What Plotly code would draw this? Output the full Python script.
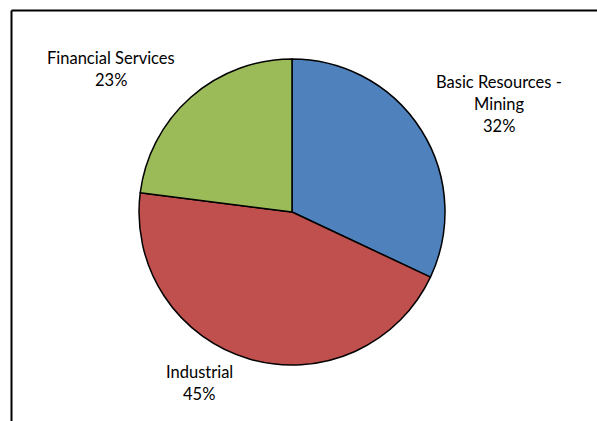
import plotly.graph_objects as go

# Sector breakdown
sectors = ["Basic Resources -<br>Mining", "Industrial", "Financial Services"]
shares = [32, 45, 23]
colors = ["#4F81BD", "#C0504D", "#9BBB59"]

W, H = 597, 421
cx, cy, r = 292, 212, 153

fig = go.Figure(go.Pie(
    labels=sectors,
    values=shares,
    sort=False,
    direction="clockwise",
    rotation=0,
    textinfo="none",
    hoverinfo="label+percent",
    marker=dict(colors=colors, line=dict(color="#000000", width=1.5)),
    domain=dict(x=[(cx - r) / W, (cx + r) / W], y=[(H - cy - r) / H, (H - cy + r) / H]),
    showlegend=False,
))

total = sum(shares)
line_gap = 22
label_top = [(499, 82), (199, 372), (111, 58)]  # centre of first label line, px
for name, v, (lx, ly) in zip(sectors, shares, label_top):
    lines = name.split("<br>") + [f"{round(100 * v / total)}%"]
    for i, txt in enumerate(lines):
        fig.add_annotation(
            x=lx / W, y=1 - (ly + i * line_gap) / H, xref="paper", yref="paper",
            text=txt, showarrow=False, align="center",
            font=dict(family="Lato, Calibri, sans-serif", size=16.5, color="#000000"),
            xanchor="center", yanchor="middle",
        )

# Chart-area frame (top and left edges fall inside the view)
fig.add_shape(type="line", xref="paper", yref="paper",
              x0=11.5 / W, x1=1.0, y0=1 - 10.5 / H, y1=1 - 10.5 / H,
              line=dict(color="#000000", width=2))
fig.add_shape(type="line", xref="paper", yref="paper",
              x0=11.5 / W, x1=11.5 / W, y0=0, y1=1 - 10.5 / H,
              line=dict(color="#000000", width=2))

fig.update_layout(
    width=W, height=H,
    margin=dict(l=0, r=0, t=0, b=0),
    paper_bgcolor="#FFFFFF", plot_bgcolor="#FFFFFF",
)

fig.write_html("out.html")
